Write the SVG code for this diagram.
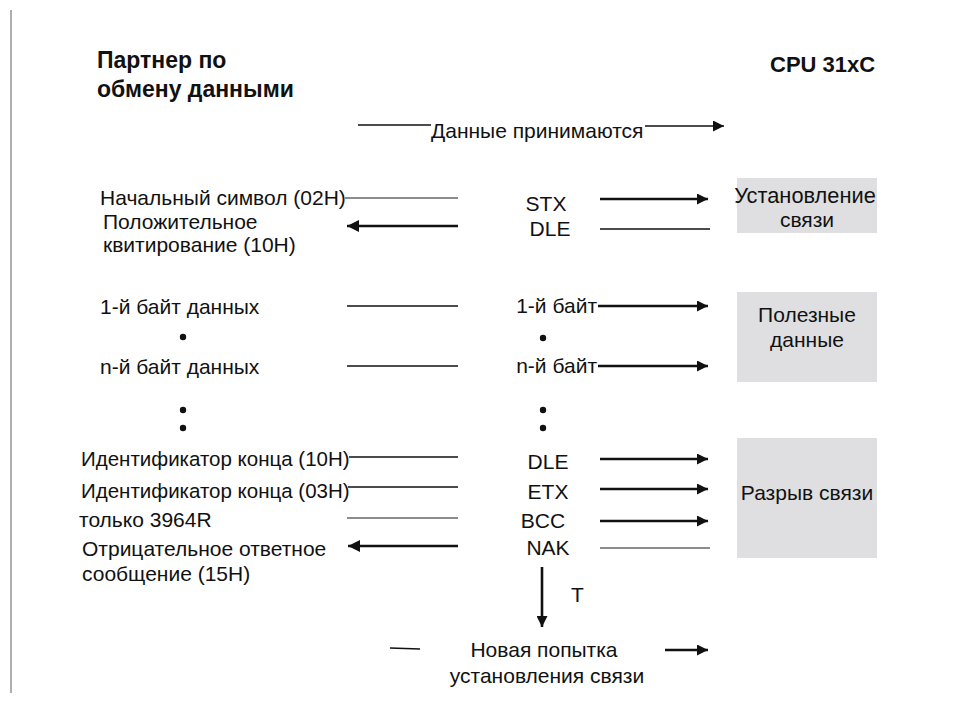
<svg xmlns="http://www.w3.org/2000/svg" width="957" height="703" viewBox="0 0 957 703">
<style>
text{font-family:"Liberation Sans",Arial,sans-serif;font-size:21px;fill:#111}
.b{font-weight:bold;font-size:23px}
.c{font-weight:bold;font-size:22px}
.m{text-anchor:middle}
.e{text-anchor:end}
.t{stroke:#111;stroke-width:1.3;fill:none}
.g{stroke:#666;stroke-width:1.6;fill:none}
.k{stroke:#111;stroke-width:2.6;fill:none}
.box{fill:#dfdfe1}
</style>
<defs>
<marker id="ah" viewBox="0 0 10 10" refX="10" refY="5" markerWidth="15" markerHeight="11" markerUnits="userSpaceOnUse" orient="auto"><path d="M0,0L10,5L0,10z" fill="#111"/></marker>
<marker id="ahb" viewBox="0 0 10 10" refX="10" refY="5" markerWidth="17" markerHeight="12" markerUnits="userSpaceOnUse" orient="auto"><path d="M0,0L10,5L0,10z" fill="#111"/></marker>
</defs>
<line x1="11" y1="10" x2="11" y2="693" stroke="#777" stroke-width="1.2"/>
<g id="titles">
<text class="b" x="97" y="68">Партнер по</text>
<text class="b" x="97" y="97">обмену данными</text>
<text class="c" x="770" y="72">CPU 31xC</text>
</g>
<g id="box-setup"><rect class="box" x="737" y="178" width="140" height="55"/>
<text class="m" x="805" y="203" style="font-size:21.8px">Установление</text><text class="m" x="807" y="227">связи</text></g>
<g id="box-data"><rect class="box" x="737" y="292" width="140" height="90"/>
<text class="m" x="807" y="322">Полезные</text><text class="m" x="807" y="347">данные</text></g>
<g id="box-end"><rect class="box" x="737" y="438" width="140" height="120"/>
<text class="m" x="807" y="500">Разрыв связи</text></g>
<g id="labels-left">
<text x="100" y="205">Начальный символ (02H)</text>
<text x="103" y="229">Положительное</text>
<text x="103" y="252">квитирование (10H)</text>
<text x="100" y="314">1-й байт данных</text>
<text x="100" y="374">n-й байт данных</text>
<text x="81" y="466" style="font-size:20.5px">Идентификатор конца (10H)</text>
<text x="81" y="498" style="font-size:20.5px">Идентификатор конца (03H)</text>
<text x="79" y="527">только 3964R</text>
<text x="82" y="556">Отрицательное ответное</text>
<text x="82" y="581">сообщение (15H)</text>
</g>
<g id="labels-mid">
<text class="m" x="546" y="211">STX</text>
<text class="m" x="550" y="236">DLE</text>
<text class="e" x="597" y="313">1-й байт</text>
<text class="e" x="597" y="373">n-й байт</text>
<text class="m" x="548" y="469">DLE</text>
<text class="m" x="548" y="499">ETX</text>
<text class="m" x="543" y="528">BCC</text>
<text class="m" x="548" y="555">NAK</text>
<text x="571" y="602">T</text>
<text class="m" x="544" y="657">Новая попытка</text>
<text class="m" x="547" y="683">установления связи</text>
<text x="431" y="138">Данные принимаются</text>
</g>
<g id="dots" fill="#111">
<circle cx="183" cy="337" r="3.2"/><circle cx="543" cy="338" r="3.2"/>
<circle cx="183" cy="410" r="3.2"/><circle cx="183" cy="428" r="3.2"/>
<circle cx="543" cy="410" r="3.2"/><circle cx="543" cy="428" r="3.2"/>
</g>
<g id="connectors">
<line class="t" x1="358" y1="125" x2="431" y2="125"/>
<line class="t" x1="645" y1="126" x2="724" y2="126" stroke-width="1.8" marker-end="url(#ah)"/>
<line class="g" x1="345" y1="198" x2="458" y2="198"/>
<line class="k" x1="600" y1="199" x2="708" y2="199" marker-end="url(#ah)"/>
<line class="k" x1="458" y1="226" x2="347" y2="226" marker-end="url(#ahb)"/>
<line class="t" x1="600" y1="229" x2="710" y2="229"/>
<line class="t" x1="347" y1="306" x2="458" y2="306"/>
<line class="k" x1="598" y1="306" x2="708" y2="306" marker-end="url(#ah)"/>
<line class="t" x1="347" y1="366" x2="458" y2="366"/>
<line class="k" x1="598" y1="366" x2="708" y2="366" marker-end="url(#ah)"/>
<line class="t" x1="349" y1="457" x2="458" y2="457"/>
<line class="k" x1="600" y1="459" x2="708" y2="459" marker-end="url(#ah)"/>
<line class="t" x1="348" y1="487" x2="458" y2="487"/>
<line class="k" x1="600" y1="489" x2="708" y2="489" marker-end="url(#ah)"/>
<line class="g" x1="347" y1="518" x2="458" y2="518"/>
<line class="k" x1="600" y1="521" x2="708" y2="521" marker-end="url(#ah)"/>
<line class="k" x1="458" y1="546" x2="348" y2="546" stroke-width="3.2" marker-end="url(#ahb)"/>
<line class="g" x1="600" y1="548" x2="710" y2="548"/>
<line class="k" x1="542" y1="567" x2="542" y2="627" stroke-width="2" marker-end="url(#ah)"/>
<line class="t" x1="390" y1="648" x2="420" y2="649"/>
<line class="k" x1="665" y1="650" x2="708" y2="650" stroke-width="2" marker-end="url(#ah)"/>
</g>
</svg>
